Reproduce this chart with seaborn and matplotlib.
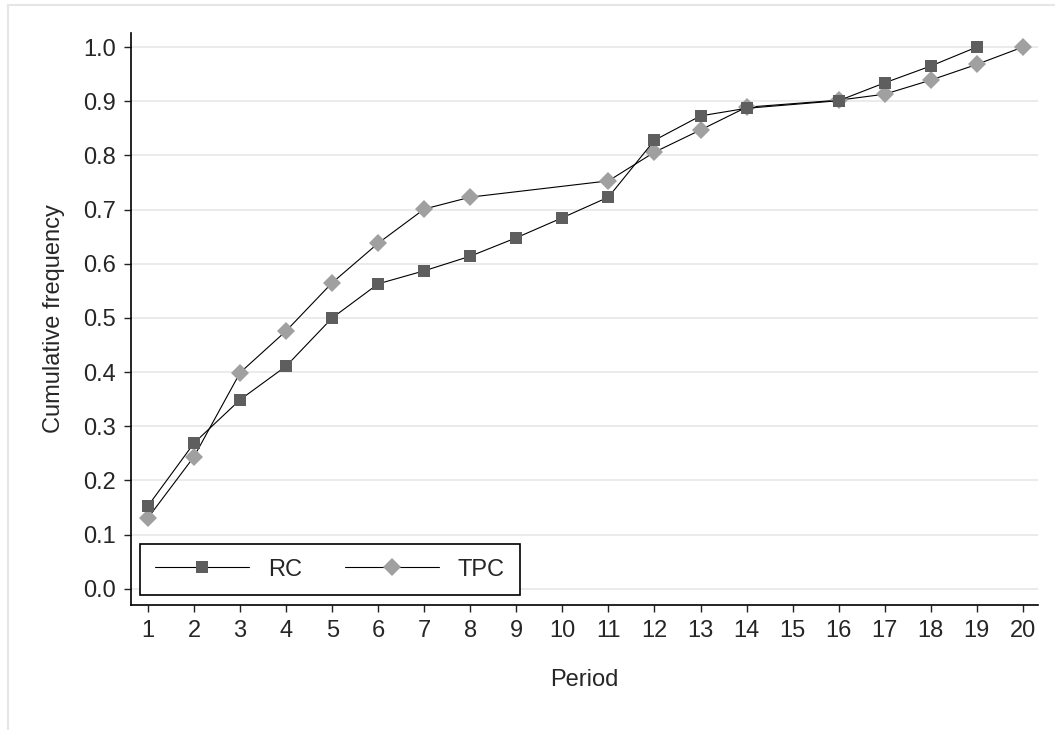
import matplotlib
matplotlib.use('Agg')
import matplotlib.pyplot as plt
from matplotlib.patches import Rectangle
import numpy as np
import pandas as pd
import seaborn as sns

# values (period 15 has no point in either series)
rc_period = [1, 2, 3, 4, 5, 6, 7, 8, 9, 10, 11, 12, 13, 14, 16, 17, 18, 19]
rc_freq = [0.153, 0.269, 0.349, 0.411, 0.500, 0.563, 0.587, 0.614, 0.648,
           0.685, 0.723, 0.828, 0.873, 0.887, 0.901, 0.934, 0.965, 1.000]

tpc_period = [1, 2, 3, 4, 5, 6, 7, 8, 11, 12, 13, 14, 16, 17, 18, 19, 20]
tpc_freq = [0.131, 0.244, 0.399, 0.476, 0.565, 0.638, 0.701, 0.723, 0.753,
            0.806, 0.847, 0.889, 0.902, 0.913, 0.939, 0.968, 1.000]

x_ticks = list(range(1, 21))
y_ticks = [0.0, 0.1, 0.2, 0.3, 0.4, 0.5, 0.6, 0.7, 0.8, 0.9, 1.0]

sns.set_style('white')
plt.rcParams['font.family'] = ['Liberation Sans', 'DejaVu Sans']
fs = 17

fig = plt.figure(figsize=(10.55, 7.3), dpi=100)
ax = fig.add_axes([131 / 1055, 125 / 730, 907 / 1055, 572 / 730])

rc = pd.DataFrame({'Period': rc_period, 'freq': rc_freq})
tpc = pd.DataFrame({'Period': tpc_period, 'freq': tpc_freq})

sns.lineplot(data=rc, x='Period', y='freq', ax=ax, color='black', lw=0.8,
             marker='s', markersize=8, markerfacecolor='#5e5e5e',
             markeredgewidth=0, label='RC', zorder=4)
sns.lineplot(data=tpc, x='Period', y='freq', ax=ax, color='black', lw=0.8,
             marker='D', markersize=9, markerfacecolor='#a0a0a0',
             markeredgewidth=0, label='TPC', zorder=3)

ax.set_xlim(0.63, 20.33)
ax.set_ylim(-0.03, 1.026)
ax.set_xticks(x_ticks)
ax.set_yticks(y_ticks)
ax.set_yticklabels([f'{v:.1f}' for v in y_ticks])
ax.yaxis.grid(True, color='#e8e8e8', lw=1.2, zorder=0)
ax.xaxis.grid(False)

for side in ['top', 'right']:
    ax.spines[side].set_visible(False)
for side in ['left', 'bottom']:
    ax.spines[side].set_color('black')
    ax.spines[side].set_linewidth(1.2)

ax.tick_params(axis='both', direction='out', length=5, width=1, color='#222222',
               labelsize=fs, pad=6, left=True, bottom=True)
ax.set_xlabel('Period', fontsize=fs, labelpad=19)
ax.set_ylabel('Cumulative frequency', fontsize=fs, labelpad=13)

leg = ax.legend(loc='lower left', bbox_to_anchor=(0.01, 0.017), ncol=2,
                fontsize=fs, handlelength=4, columnspacing=1.8,
                handletextpad=0.8, borderpad=0.62, fancybox=False,
                framealpha=1, borderaxespad=0)
leg.get_frame().set_edgecolor('black')
leg.get_frame().set_linewidth(1.2)

# light frame around the whole graph
fig.patches.append(Rectangle((8 / 1055, -0.05), 1.1, (725 / 730) + 0.05,
                             transform=fig.transFigure, fill=False,
                             edgecolor='#e6e6e6', lw=1.5, zorder=0))

fig.savefig('out.png', dpi=100)
plt.close(fig)
